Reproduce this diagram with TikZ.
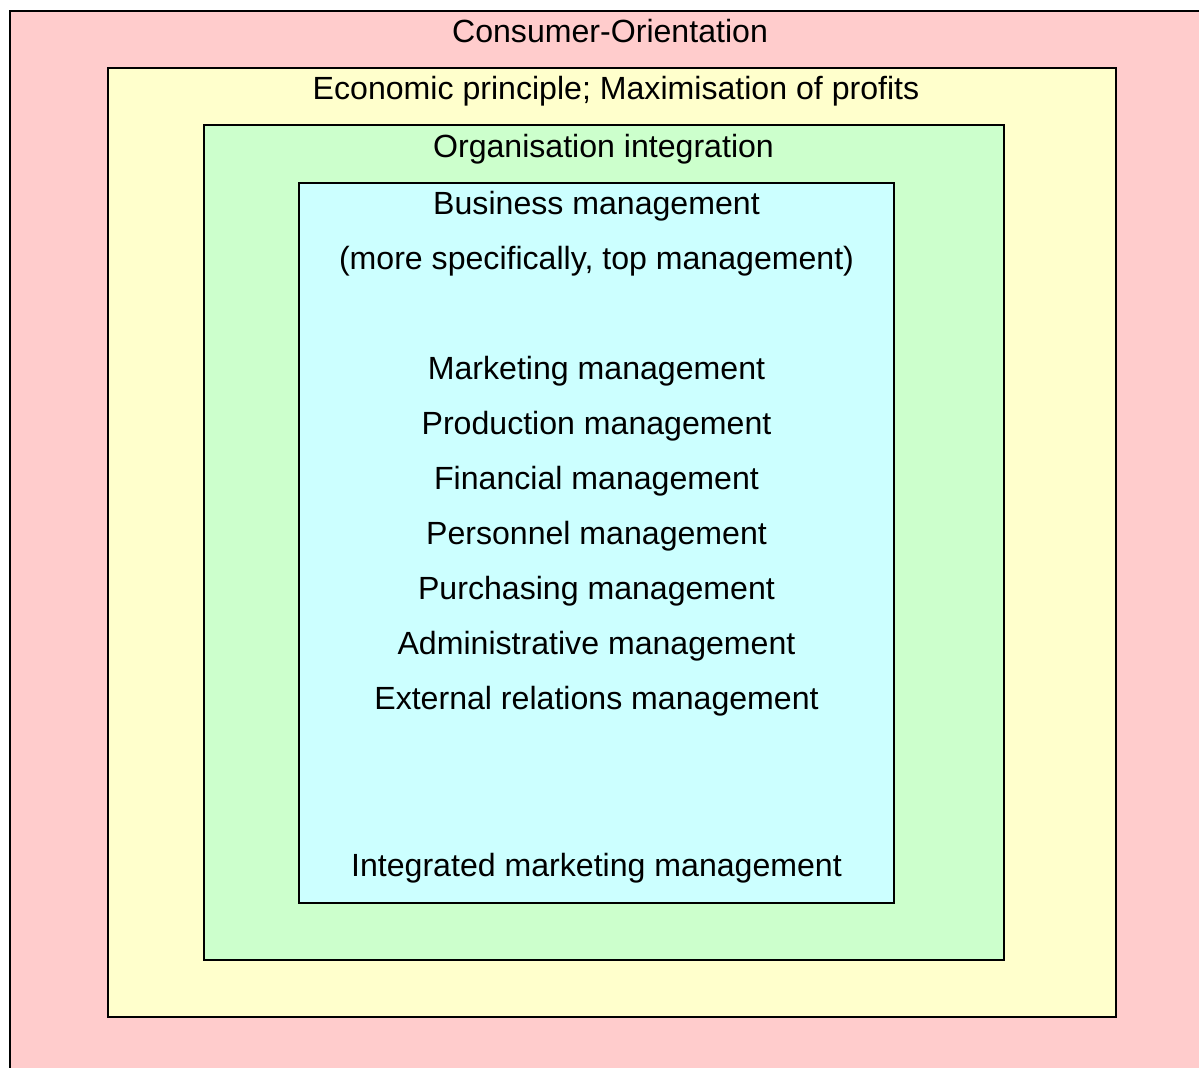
\documentclass[tikz,border=0pt]{standalone}
\usepackage{fontspec}
\setmainfont{Liberation Sans}
\definecolor{consumer}{HTML}{FFCCCC}
\definecolor{economic}{HTML}{FFFFCC}
\definecolor{organisation}{HTML}{CCFFCC}
\definecolor{business}{HTML}{CCFFFF}

\tikzset{
	frame/.style={draw=black, line width=0.8pt, inner sep=0pt},
	boxtext/.style={anchor=base, inner sep=0pt}
}

\begin{document}
\begin{tikzpicture}[x=0.5pt, y=-0.5pt, font=\fontsize{16.05}{19}\selectfont]

	\useasboundingbox (0,0) rectangle (1199,1068);
	\fill[white] (0,0) rectangle (1199,1068);

	% nested frames, outermost first
	\draw (611,545.5) 
		node[frame, fill=consumer, minimum width=601pt, minimum height=534.5pt] 
			(Consumer) {};

	\draw (612,542.5) 
		node[frame, fill=economic, minimum width=504pt, minimum height=474.5pt] 
			(Economic) {};

	\draw (604,542.5) 
		node[frame, fill=organisation, minimum width=400pt, minimum height=417.5pt] 
			(Organisation) {};

	\draw (596.5,543) 
		node[frame, fill=business, minimum width=297.5pt, minimum height=360pt] 
			(Business) {};

	% headings of the frames
	\draw (610,42.5) node[boxtext] (Consumer Title) {Consumer-Orientation};
	\draw (616,99.5) node[boxtext] (Economic Title) {Economic principle; Maximisation of profits};
	\draw (603.5,157.5) node[boxtext] (Organisation Title) {Organisation integration};
	\draw (596.5,214.5) node[boxtext] (Business Title) {Business management};
	\draw (596.5,269.5) node[boxtext] (Top Management) {(more specifically, top management)};

	% functional areas
	\draw (596.5,379.5) node[boxtext] (Marketing) {Marketing management};
	\draw (596.5,434.5) node[boxtext] (Production) {Production management};
	\draw (596.5,489.5) node[boxtext] (Financial) {Financial management};
	\draw (596.5,544.5) node[boxtext] (Personnel) {Personnel management};
	\draw (596.5,599.5) node[boxtext] (Purchasing) {Purchasing management};
	\draw (596.5,654.5) node[boxtext] (Administrative) {Administrative management};
	\draw (596.5,710) node[boxtext] (External) {External relations management};

	\draw (596.5,876) node[boxtext] (Integrated) {Integrated marketing management};

\end{tikzpicture}
\end{document}
